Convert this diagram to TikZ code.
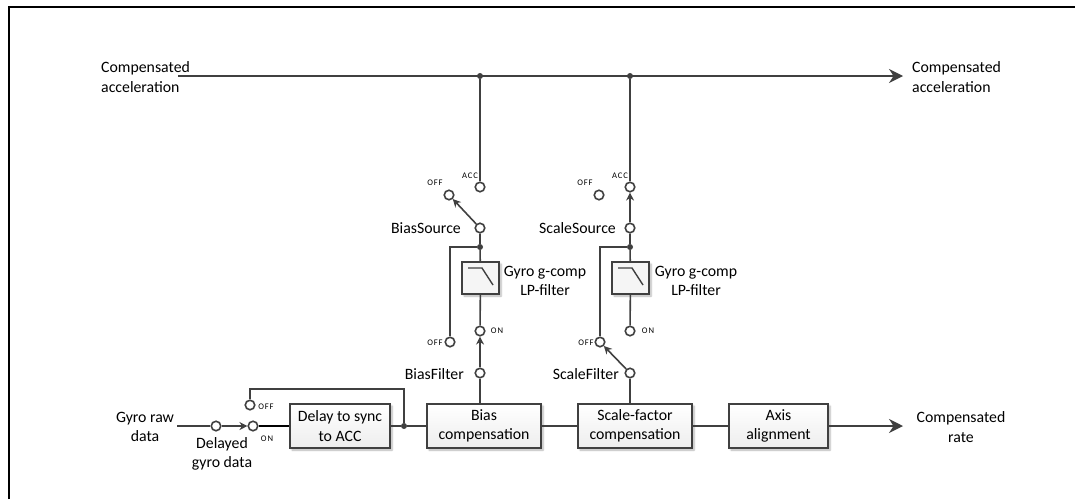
\documentclass[tikz,border=0pt]{standalone}
\usepackage{fontspec}
\setmainfont{Carlito}
\usetikzlibrary{positioning, calc}
\usetikzlibrary{arrows.meta}
\usetikzlibrary{shadows.blur}
\definecolor{linegray}{RGB}{64,64,64}
\begin{document}
\begin{tikzpicture}[x=1pt,y=-1pt,font=\fontsize{15.8}{19.5}\selectfont]
\tikzset{
  boxshadow/.style={blur shadow={shadow xshift=2pt,shadow yshift=-2pt,shadow blur steps=6,shadow opacity=30}},
  blockbox/.style={draw=linegray,line width=1.6pt,top color=white,bottom color=black!7,minimum height=44pt,inner sep=0pt,align=center,boxshadow},
  filterbox/.style={draw=linegray,line width=1.6pt,fill=black!4,minimum width=37pt,minimum height=32pt,inner sep=0pt,boxshadow},
  wire/.style={draw=linegray,line width=1.6pt},
  bigarrow/.style={-{Stealth[length=14pt,width=14pt]}},
  smallarrow/.style={-{Stealth[length=8pt,width=8pt]}},
  pin/.style={draw=linegray,line width=1.6pt,fill=white,circle,minimum size=9.5pt,inner sep=0pt},
  joint/.style={fill=linegray,draw=none,circle,minimum size=6pt,inner sep=0pt},
  smalltag/.style={font=\fontsize{8.6}{10}\selectfont\addfontfeature{LetterSpace=10},inner sep=0pt},
  lbl/.style={inner sep=0pt,align=center}
}
\useasboundingbox (0,0) rectangle (1075,499);
% frame
\draw[black,line width=2.4pt] (9,499) -- (9,7) -- (1075,7);

% blocks
\node[blockbox,minimum width=100pt] (delay) at (340,426) {Delay to sync\\to ACC};
\node[blockbox,minimum width=114pt] (bias) at (484,426) {Bias\\compensation};
\node[blockbox,minimum width=114pt] (scale) at (635,426) {Scale-factor\\compensation};
\node[blockbox,minimum width=99pt] (axis) at (778.5,426) {Axis\\alignment};

% filters
\node[filterbox] (lpA) at (480.5,278) {};
\node[filterbox] (lpB) at (630.5,278) {};
\draw[linegray,line width=1.4pt] ($(lpA)+(-12.5,-10)$) -- ++(14,0) -- ++(11,17);
\draw[linegray,line width=1.4pt] ($(lpB)+(-12.5,-10)$) -- ++(14,0) -- ++(11,17);

% top bus
\coordinate (accIn) at (178,76);
\coordinate (accOut) at (903,76);
\node[joint] (busA) at (480,76) {};
\node[joint] (busB) at (630,76) {};
\draw[wire,bigarrow] (accIn) -- (accOut);

% switch pins
\node[joint] (tapA) at (480,247) {};
\node[joint] (tapB) at (630,247) {};
\node[pin] (accA) at (480,187) {};
\node[pin] (offA) at (449,195) {};
\node[pin] (srcA) at (480,228) {};
\node[pin] (onA) at (480,331) {};
\node[pin] (offC) at (450,342) {};
\node[pin] (filtA) at (480,373) {};
\node[pin] (accB) at (630,187) {};
\node[pin] (offB) at (599,195) {};
\node[pin] (srcB) at (630,228) {};
\node[pin] (onB) at (630,331) {};
\node[pin] (offD) at (600,342) {};
\node[pin] (filtB) at (630,373) {};

% input side
\coordinate (rawIn) at (177,426);
\node[pin] (delayed) at (216,426) {};
\node[pin] (onIn) at (253,426) {};
\node[pin] (offIn) at (250,405) {};
\node[joint] (tapIn) at (404,426) {};
\coordinate (rateOut) at (903,426);

% connectors
\draw[wire] (rawIn) -- (delayed);
\draw[wire,smallarrow] (delayed) -- (onIn);
\draw[wire,black] (onIn) -- (delay.west |- onIn);
\draw[wire] (delay.east |- tapIn) -- (tapIn) -- (bias.west |- tapIn);
\draw[wire] (tapIn) -- (tapIn |- 0,389) -- (offIn |- 0,389) -- (offIn);
\draw[wire] (bias.east |- tapIn) -- (scale.west |- tapIn);
\draw[wire] (scale.east |- tapIn) -- (axis.west |- tapIn);
\draw[wire,bigarrow] (axis.east |- tapIn) -- (rateOut);

\draw[wire] (busA) -- (accA);
\draw[wire] (busB) -- (accB);
\draw[wire,smallarrow] (srcA) -- (offA);
\draw[wire,smallarrow] (srcB) -- (accB);
\draw[wire] (srcA) -- (tapA) -- (lpA);
\draw[wire] (srcB) -- (tapB) -- (lpB);
\draw[wire] (tapA) -- (offC |- tapA) -- (offC);
\draw[wire] (tapB) -- (offD |- tapB) -- (offD);
\draw[wire] (lpA) -- (onA);
\draw[wire] (lpB) -- (onB);
\draw[wire,smallarrow] (filtA) -- (onA);
\draw[wire,smallarrow] (filtB) -- (offD);
\draw[wire] (filtA) -- (filtA |- bias.north);
\draw[wire] (filtB) -- (filtB |- scale.north);

% labels
\node[lbl,align=left,anchor=west] (accLeft) at (101,77) {Compensated\\acceleration};
\node[lbl,align=left,anchor=west] (accRight) at (912,77) {Compensated\\acceleration};
\node[lbl] (rawLbl) at (145,427) {Gyro raw\\data};
\node[lbl] (delayedLbl) at (222,454) {Delayed\\gyro data};
\node[lbl] (rateLbl) at (961,427) {Compensated\\rate};
\node[lbl,anchor=east] (srcALbl) at (461,228) {BiasSource};
\node[lbl,anchor=east] (srcBLbl) at (616,228) {ScaleSource};
\node[lbl,anchor=east] (filtALbl) at (464,374) {BiasFilter};
\node[lbl,anchor=east] (filtBLbl) at (619,374) {ScaleFilter};
\node[lbl] (lpALbl) at (545,281) {Gyro g-comp\\LP-filter};
\node[lbl] (lpBLbl) at (696,281) {Gyro g-comp\\LP-filter};

% small tags
\node[smalltag] (tagAccA) at (470,176) {ACC};
\node[smalltag] (tagAccB) at (620,176) {ACC};
\node[smalltag] (tagOffA) at (435,183) {OFF};
\node[smalltag] (tagOffB) at (585,183) {OFF};
\node[smalltag] (tagOnA) at (497,331) {ON};
\node[smalltag] (tagOnB) at (648,331) {ON};
\node[smalltag] (tagOffC) at (435,343) {OFF};
\node[smalltag] (tagOffD) at (586,343) {OFF};
\node[smalltag] (tagOffIn) at (266,407) {OFF};
\node[smalltag] (tagOnIn) at (267,439) {ON};
\end{tikzpicture}
\end{document}
